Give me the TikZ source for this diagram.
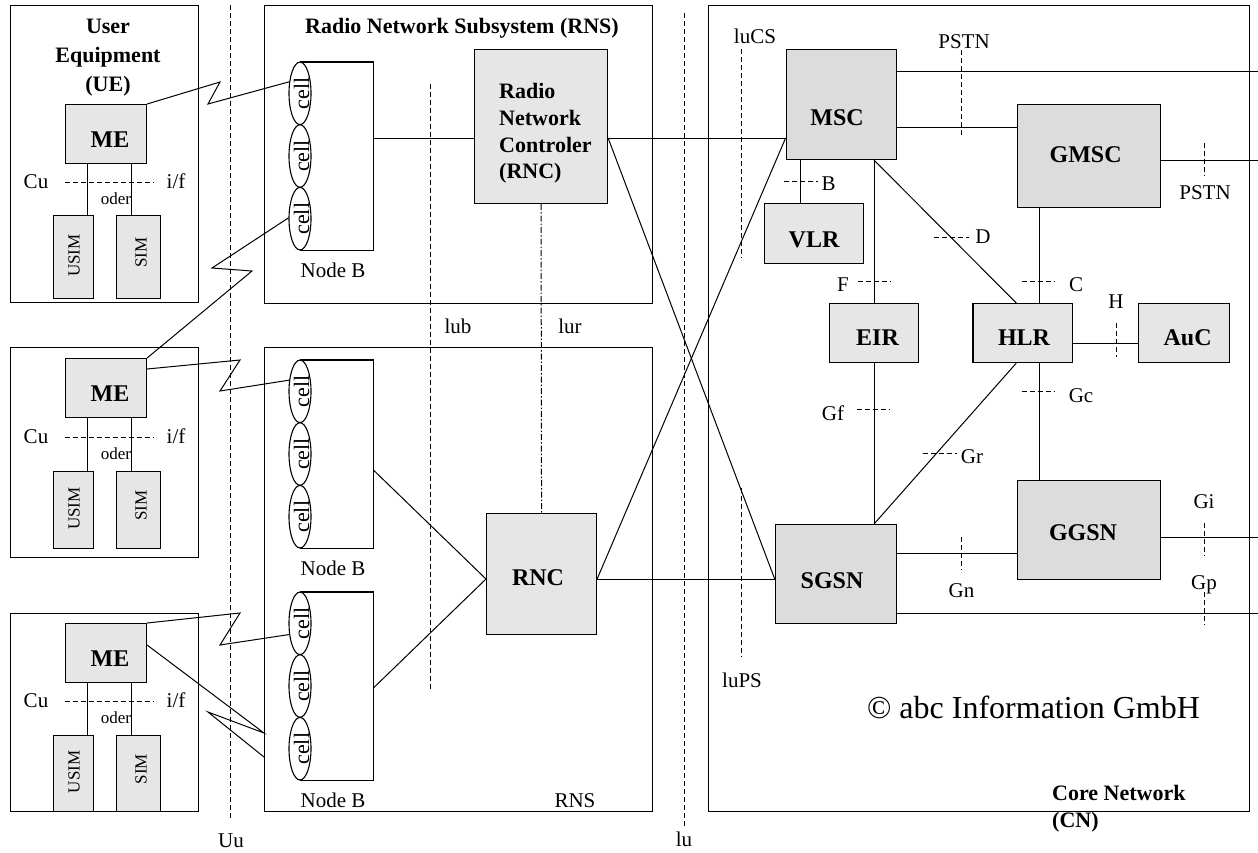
\documentclass[tikz,border=0pt]{standalone}
\usepackage{fontspec}
\setmainfont{Liberation Serif}
\usetikzlibrary{shapes.geometric}
\newcommand{\myfs}[1]{\fontsize{#1}{#1}\selectfont}
\definecolor{boxA}{HTML}{E6E6E6}
\definecolor{boxB}{HTML}{DCDCDC}
\begin{document}
\begin{tikzpicture}[x=1pt,y=-1pt,
  box/.style={draw, line width=1.1pt, inner sep=0pt, anchor=north west},
  conn/.style={line width=1pt},
  dsh/.style={line width=1pt, dash pattern=on 5pt off 3pt},
  dshdot/.style={line width=1pt, dash pattern=on 6pt off 2pt on 1.5pt off 2pt},
  txt/.style={font=\myfs{21}, anchor=base, inner sep=0pt},
  smalltxt/.style={font=\myfs{17}, anchor=base, inner sep=0pt},
  rottxt/.style={font=\myfs{17}, rotate=90, inner sep=0pt},
  celltxt/.style={font=\myfs{22}, rotate=90, inner sep=0pt},
  bt/.style={font=\bfseries\myfs{24}, anchor=base, inner sep=0pt},
  tt/.style={font=\bfseries\myfs{22}, anchor=base, inner sep=0pt},
  cellsh/.style={ellipse, draw, fill=white, line width=1.1pt, minimum width=22pt, minimum height=62.5pt, inner sep=0pt},
]
\useasboundingbox (0,0) rectangle (1258,852);
\fill[white] (0,0) rectangle (1258,852);

% ---------------- User Equipment ----------------
\node[tt] (uet1) at (108,33) {User};
\node[tt] (uet2) at (108,62) {Equipment};
\node[tt] (uet3) at (108,91) {(UE)};
\foreach \i/\bt/\bh/\me/\cu/\us/\ush in {1/5/297/104/182/215/83, 2/347/210/358/437/471/77, 3/613/198/623/701/735/76}{
  \node[box, minimum width=188pt, minimum height=\bh pt] (ue\i) at (10,\bt) {};
  \node[box, fill=boxA, minimum width=81pt, minimum height=59pt] (me\i) at (65,\me) {};
  \node[bt] (mel\i) at (110,{\me+43.5}) {ME};
  \node[box, fill=boxA, minimum width=40pt, minimum height=\ush pt] (usim\i) at (53,\us) {};
  \node[box, fill=boxA, minimum width=44pt, minimum height=\ush pt] (sim\i) at (116,\us) {};
  \node[rottxt] (usimt\i) at (74,{\us+\ush/2-1}) {USIM};
  \node[rottxt] (simt\i) at (141,{\us+\ush/2-4}) {SIM};
  \draw[conn] (me\i.south -| 87,0) -- (usim\i.north -| 87,0);
  \draw[conn] (me\i.south -| 131,0) -- (sim\i.north -| 131,0);
  \node[txt] (cu\i) at (36,{\cu+6}) {Cu};
  \node[txt] (if\i) at (176,{\cu+6}) {i/f};
  \draw[dsh] (65,\cu) -- (154,\cu);
  \node[smalltxt] (oder\i) at (116,{\cu+22}) {oder};
}
\draw[dsh] (230.5,5) -- (230.5,820);
\node[txt] (uu) at (231,847) {Uu};

% ---------------- Radio Network Subsystems ----------------
\node[box, minimum width=388pt, minimum height=298pt] (rns1) at (264,5) {};
\node[tt] (rnstitle) at (462,33) {Radio Network Subsystem (RNS)};
\node[box, minimum width=388pt, minimum height=464pt] (rns2) at (264,347) {};
\node[txt] (rnsl) at (575,807) {RNS};

\node[box, fill=boxA, minimum width=133pt, minimum height=154pt] (rnc1) at (474,49) {};
\node[tt, anchor=base west] (rt1) at (499,98) {Radio};
\node[tt, anchor=base west] (rt2) at (499,125) {Network};
\node[tt, anchor=base west] (rt3) at (499,152) {Controler};
\node[tt, anchor=base west] (rt4) at (499,178) {(RNC)};

\node[box, fill=boxA, minimum width=110pt, minimum height=121pt] (rnc2) at (486,513) {};
\node[bt] (rnc2l) at (538,585) {RNC};

\foreach \i/\t in {1/62, 2/360, 3/592}{
  \node[minimum width=73pt, minimum height=188pt, inner sep=0pt, anchor=north west] (nb\i) at (300,\t) {};
  \draw[line width=1.1pt] (nb\i.north west) -- (nb\i.north east) -- (nb\i.south east) -- (nb\i.south west);
  \foreach \j in {1,2,3}{
    \node[cellsh] (c\i\j) at (300,{\t+31.33+62.67*(\j-1)}) {};
    \node[celltxt] (ct\i\j) at (301.5,{\t+31.33+62.67*(\j-1)}) {cell};
  }
  \node[txt] (nbl\i) at (333,{\t+215}) {Node B};
}

\draw[dsh] (430,84) -- (430,690);
\node[txt] (lub) at (458,333) {lub};
\draw[dshdot] (rnc1.south) -- (rnc2.north);
\node[txt] (lur) at (570,333) {lur};

\draw[conn] (nb1.east |- 0,138) -- (rnc1.west |- 0,138);
\draw[conn] (nb2.east |- 0,470) -- (rnc2.west |- 0,579);
\draw[conn] (nb3.east |- 0,688) -- (rnc2.west |- 0,579);

% radio links
\draw[conn] (me1.north east) -- (220,82) -- (208,104) -- (c11.133);
\draw[conn] (c13.176) -- (212,268) -- (252,271) -- (me2.north east);
\draw[conn] (me2.east |- 0,369) -- (240,360) -- (220,391) -- (c21.134);
\draw[conn] (me3.north east) -- (240,613) -- (220,645) -- (c31.226);
\draw[conn] (me3.east |- 0,645) -- (rns2.west |- 0,733) -- (208,712) -- (rns2.west |- 0,757);

\draw[dsh] (684,13) -- (684,828);
\node[txt] (iu) at (684,846) {lu};

% ---------------- Core Network ----------------
\node[box, minimum width=541pt, minimum height=806pt] (cn) at (708,5) {};
\node[tt, anchor=base west] (cnl1) at (1052,800) {Core Network};
\node[tt, anchor=base west] (cnl2) at (1052,827) {(CN)};
\node[font=\myfs{32}, anchor=base, inner sep=0pt] (copy) at (1033.5,718) {© abc Information GmbH};

\node[box, fill=boxB, minimum width=110.7pt, minimum height=110pt] (msc) at (785.6,49) {};
\node[bt] (mscl) at (837,125) {MSC};
\node[box, fill=boxB, minimum width=143pt, minimum height=103pt] (gmsc) at (1017,104) {};
\node[bt] (gmscl) at (1085.6,162) {GMSC};
\node[box, fill=boxA, minimum width=99pt, minimum height=60pt] (vlr) at (764,203) {};
\node[bt] (vlrl) at (814,247) {VLR};
\node[box, fill=boxA, minimum width=89.2pt, minimum height=59pt] (eir) at (828.8,303) {};
\node[bt] (eirl) at (877.5,345) {EIR};
\node[box, fill=boxA, minimum width=99.9pt, minimum height=59pt] (hlr) at (972.4,303) {};
\node[bt] (hlrl) at (1024,345) {HLR};
\node[box, fill=boxA, minimum width=91.2pt, minimum height=59pt] (auc) at (1137.9,303) {};
\node[bt] (aucl) at (1187.6,345) {AuC};
\node[box, fill=boxB, minimum width=143pt, minimum height=99pt] (ggsn) at (1017,480) {};
\node[bt] (ggsnl) at (1083,540) {GGSN};
\node[box, fill=boxB, minimum width=121.6pt, minimum height=99pt] (sgsn) at (774.7,524) {};
\node[bt] (sgsnl) at (832,588) {SGSN};

\coordinate (e1) at (1258,71);
\coordinate (e2) at (1258,160);
\coordinate (e3) at (1258,537);
\coordinate (e4) at (1258,613);

% RNS - CN connections
\draw[conn] (rnc1.east |- 0,138) -- (msc.west |- 0,138);
\draw[conn] (rnc1.east |- 0,138) -- (sgsn.west |- 0,579);
\draw[conn] (rnc2.east |- 0,579) -- (sgsn.west |- 0,579);
\draw[conn] (rnc2.east |- 0,579) -- (msc.west |- 0,138);

% CN connections
\draw[conn] (msc.east |- e1) -- (e1);
\draw[conn] (msc.east |- 0,127) -- (gmsc.west |- 0,127);
\draw[conn] (gmsc.east |- e2) -- (e2);
\draw[conn] (msc.south -| 800.7,0) -- (vlr.north -| 800.7,0);
\draw[conn] (msc.south -| 874,0) -- (eir.north -| 874,0);
\draw[conn] (eir.south -| 874,0) -- (sgsn.north -| 874,0);
\draw[conn] (msc.south -| 874,0) -- (hlr.north -| 1016.3,0);
\draw[conn] (hlr.south -| 1016.3,0) -- (sgsn.north -| 874,0);
\draw[conn] (gmsc.south -| 1039,0) -- (hlr.north -| 1039,0);
\draw[conn] (hlr.south -| 1039,0) -- (ggsn.north -| 1039,0);
\draw[conn] (hlr.east |- 0,343) -- (auc.west |- 0,343);
\draw[conn] (sgsn.east |- 0,553) -- (ggsn.west |- 0,553);
\draw[conn] (ggsn.east |- e3) -- (e3);
\draw[conn] (sgsn.east |- e4) -- (e4);

% interface markers
\draw[dsh] (741,49) -- (741,258);
\node[txt] (iucs) at (755,43) {luCS};
\draw[dsh] (741,488) -- (741,657);
\node[txt] (iups) at (742,687) {luPS};
\draw[dsh] (961.5,50) -- (961.5,137);
\node[txt] (pstn1) at (964,48) {PSTN};
\draw[dsh] (1204,143) -- (1204,176);
\node[txt] (pstn2) at (1205,199) {PSTN};
\draw[dsh] (784,181) -- (818,181);
\node[txt] (lb) at (828.6,190) {B};
\draw[dsh] (934,237) -- (969,237);
\node[txt] (ld) at (983,243) {D};
\draw[dsh] (857.7,281) -- (891,281);
\node[txt] (lf) at (843,291) {F};
\draw[dsh] (1021.7,281) -- (1055.3,281);
\node[txt] (lc) at (1076,291) {C};
\draw[dsh] (1116,323) -- (1116,357);
\node[txt] (lh) at (1116,308) {H};
\draw[dsh] (856.6,409) -- (890.1,409);
\node[txt] (lgf) at (833,420) {Gf};
\draw[dsh] (1021.7,391) -- (1055.3,391);
\node[txt] (lgc) at (1081,402) {Gc};
\draw[dsh] (922.6,453) -- (956.9,453);
\node[txt] (lgr) at (972,463) {Gr};
\draw[dsh] (961.5,537) -- (961.5,570);
\node[txt] (lgn) at (961.5,597) {Gn};
\draw[dsh] (1204,523) -- (1204,556);
\node[txt] (lgi) at (1204,508) {Gi};
\draw[dsh] (1204,592) -- (1204,625);
\node[txt] (lgp) at (1204,589) {Gp};
\end{tikzpicture}
\end{document}
